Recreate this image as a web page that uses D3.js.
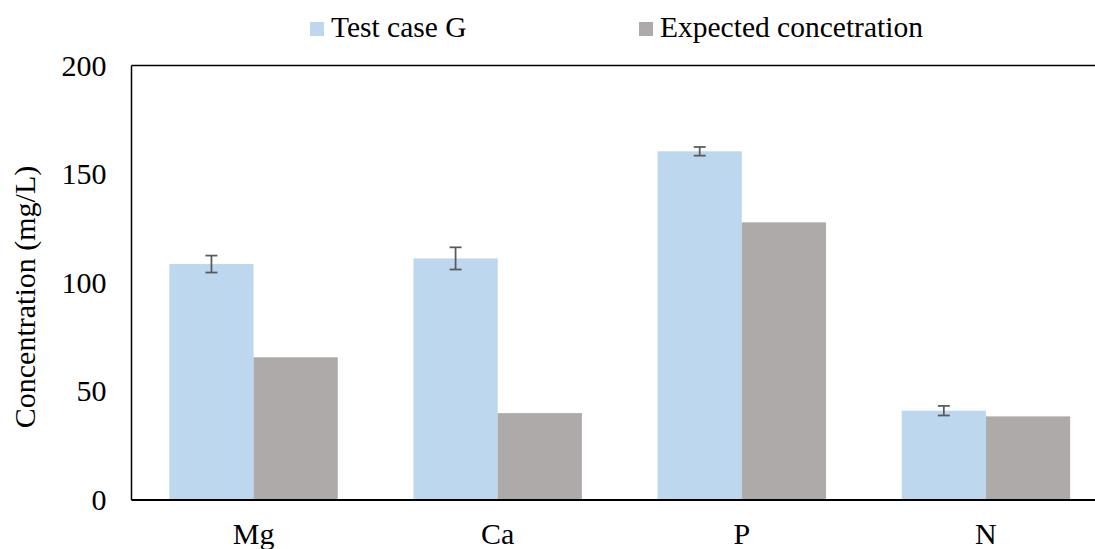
<!DOCTYPE html>
<html>
<head>
<meta charset="utf-8">
<script src="https://cdn.jsdelivr.net/npm/d3@7"></script>
<style>
  html, body { margin: 0; padding: 0; background: #fff; }
  svg { display: block; }
  text { font-family: "Liberation Serif", "Times New Roman", serif; fill: #000; }
</style>
</head>
<body>
<svg id="chart" width="1095" height="549"></svg>
<script>
// Elements measured
const categories = ["Mg", "Ca", "P", "N"];
const seriesNames = ["Test case G", "Expected concetration"];
const testCaseG = [108.6, 111.2, 160.5, 41.1];
const testCaseGErr = [3.9, 5.1, 2.0, 2.2];
const expected = [65.7, 40.0, 127.8, 38.5];
const yTicks = [0, 50, 100, 150, 200];
const colors = ["#BDD7EE", "#AEAAAA"];

const svg = d3.select("#chart");
const margin = { left: 131.5, top: 65.5, right: -13, bottom: 49 };
const W = 1095, H = 549;
const plotW = W - margin.left - margin.right;
const plotH = H - margin.top - margin.bottom;

const x0 = d3.scaleBand().domain(categories).range([0, plotW]).paddingInner(0.31).paddingOuter(0.155);
const x1 = d3.scaleBand().domain(seriesNames).range([0, x0.bandwidth()]);
const y = d3.scaleLinear().domain([0, 200]).range([plotH, 0]);

const g = svg.append("g").attr("transform", `translate(${margin.left},${margin.top})`);

// bars
const rows = categories.map((c, i) => ({ cat: c, vals: [testCaseG[i], expected[i]], err: testCaseGErr[i] }));
const groups = g.selectAll("g.grp").data(rows).join("g")
  .attr("class", "grp")
  .attr("transform", d => `translate(${x0(d.cat)},0)`);

groups.selectAll("rect").data(d => d.vals.map((v, k) => ({ s: seriesNames[k], v, k }))).join("rect")
  .attr("x", d => x1(d.s))
  .attr("y", d => y(d.v))
  .attr("width", x1.bandwidth())
  .attr("height", d => y(0) - y(d.v))
  .attr("fill", d => colors[d.k]);

// error bars on the test case series
const capW = 12;
groups.each(function (d) {
  const gg = d3.select(this);
  const cx = x1(seriesNames[0]) + x1.bandwidth() / 2;
  const v = d.vals[0];
  const lo = y(v - d.err), hi = y(v + d.err);
  gg.append("line").attr("x1", cx).attr("x2", cx).attr("y1", lo).attr("y2", hi)
    .attr("stroke", "#595959").attr("stroke-width", 1.75);
  [lo, hi].forEach(yy => gg.append("line")
    .attr("x1", cx - capW / 2).attr("x2", cx + capW / 2).attr("y1", yy).attr("y2", yy)
    .attr("stroke", "#595959").attr("stroke-width", 1.75));
});

// frame: top and left borders, bottom axis line
g.append("line").attr("x1", 0).attr("x2", plotW).attr("y1", 0).attr("y2", 0)
  .attr("stroke", "#000").attr("stroke-width", 1.5);
g.append("line").attr("x1", 0).attr("x2", 0).attr("y1", 0).attr("y2", plotH)
  .attr("stroke", "#000").attr("stroke-width", 1.5);
g.append("line").attr("x1", 0).attr("x2", plotW).attr("y1", plotH).attr("y2", plotH)
  .attr("stroke", "#000").attr("stroke-width", 2);

// y axis labels
const yAxis = d3.axisLeft(y).tickValues(yTicks).tickSize(0).tickPadding(25).tickFormat(d3.format("d"));
const ya = g.append("g").call(yAxis);
ya.select(".domain").remove();
ya.selectAll("text").attr("font-size", 30).attr("font-family", "Liberation Serif").attr("fill", "#000");

// x axis labels
const xAxis = d3.axisBottom(x0).tickSize(0).tickPadding(0);
const xa = g.append("g").attr("transform", `translate(0,${plotH})`).call(xAxis);
xa.select(".domain").remove();
xa.selectAll("text").attr("font-size", 30).attr("font-family", "Liberation Serif").attr("fill", "#000")
  .attr("dy", null).attr("y", 44);

// y axis title
svg.append("text")
  .attr("transform", "translate(35,297) rotate(-90)")
  .attr("text-anchor", "middle")
  .attr("font-size", 30)
  .text("Concentration (mg/L)");

// legend
const legendPos = [310, 639];
seriesNames.forEach((name, k) => {
  const lg = svg.append("g").attr("transform", `translate(${legendPos[k]},0)`);
  lg.append("rect").attr("x", 0).attr("y", 22).attr("width", 14).attr("height", 14).attr("fill", colors[k]);
  lg.append("text").attr("x", 21).attr("y", 36.5).attr("font-size", 29.5).text(name);
});
</script>
</body>
</html>
